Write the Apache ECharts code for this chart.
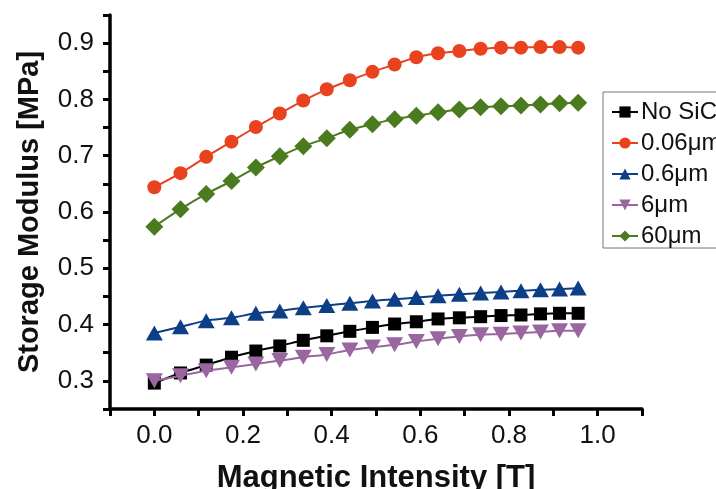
<!DOCTYPE html>
<html>
<head>
<meta charset="utf-8">
<script src="https://cdn.jsdelivr.net/npm/echarts@6/dist/echarts.min.js"></script>
<style>html,body{margin:0;padding:0;background:#fff;}#c{width:716px;height:489px;}</style>
</head>
<body>
<div id="c"></div>
<script>
const seriesNames = ['No SiC', '0.06\u03bcm', '0.6\u03bcm', '6\u03bcm', '60\u03bcm'];
const field = [0, 0.059, 0.117, 0.174, 0.229, 0.283, 0.336, 0.389, 0.441, 0.492, 0.542, 0.591, 0.640, 0.688, 0.736, 0.782, 0.827, 0.871, 0.914, 0.956];
const noSiC = [0.296, 0.314, 0.328, 0.342, 0.353, 0.362, 0.372, 0.380, 0.388, 0.395, 0.401, 0.405, 0.410, 0.412, 0.414, 0.416, 0.417, 0.419, 0.420, 0.420];
const sic006 = [0.644, 0.669, 0.698, 0.725, 0.751, 0.775, 0.798, 0.818, 0.834, 0.849, 0.862, 0.875, 0.882, 0.886, 0.890, 0.892, 0.892, 0.893, 0.893, 0.892];
const sic06 = [0.385, 0.396, 0.407, 0.412, 0.420, 0.424, 0.430, 0.434, 0.438, 0.442, 0.445, 0.448, 0.451, 0.454, 0.456, 0.458, 0.460, 0.462, 0.463, 0.465];
const sic6 = [0.300, 0.309, 0.318, 0.324, 0.330, 0.336, 0.342, 0.347, 0.355, 0.360, 0.364, 0.370, 0.375, 0.379, 0.382, 0.383, 0.385, 0.387, 0.389, 0.389];
const sic60 = [0.574, 0.605, 0.632, 0.655, 0.679, 0.699, 0.717, 0.731, 0.746, 0.756, 0.765, 0.771, 0.777, 0.782, 0.786, 0.788, 0.789, 0.791, 0.793, 0.794];

const values = [noSiC, sic006, sic06, sic6, sic60];
const colors = ['#000000', '#E8421E', '#0D3F87', '#9966A0', '#4B7B1F'];
const symbols = ['rect', 'circle', 'triangle', 'triangle', 'diamond'];
const symbolSizes = [13, 14, [17, 15], [17, 15], [18, 18]];
const rotates = [0, 0, 0, 180, 0];

const FONT = 'Arial, "Liberation Sans", sans-serif';
const chart = echarts.init(document.getElementById('c'), null, {renderer: 'canvas'});

const series = seriesNames.map((name, i) => ({
  name: name,
  type: 'line',
  data: field.map((x, j) => [x, values[i][j]]),
  smooth: 0.3,
  symbol: symbols[i],
  symbolSize: symbolSizes[i],
  symbolRotate: rotates[i],
  showAllSymbol: true,
  color: colors[i],
  lineStyle: {width: 2, color: colors[i]},
  itemStyle: {color: colors[i]},
  z: 2 + i
}));

chart.setOption({
  animation: false,
  backgroundColor: '#fff',
  grid: {left: 110, right: 74, top: 15, bottom: 80, containLabel: false, outerBoundsMode: 'none'},
  legend: {
    orient: 'vertical',
    left: 603,
    top: 92,
    padding: [8, 60, 0, 8],
    itemGap: 7,
    itemWidth: 26,
    itemHeight: 14,
    borderColor: '#777',
    borderWidth: 1,
    backgroundColor: '#fff',
    textStyle: {fontFamily: FONT, fontSize: 24, color: '#111', padding: [0, 0, 0, -2]},
    data: seriesNames
  },
  xAxis: {
    type: 'value',
    min: -0.1,
    max: 1.1,
    interval: 0.1,
    name: 'Magnetic Intensity [T]',
    nameLocation: 'middle',
    nameGap: 54,
    nameTextStyle: {fontFamily: FONT, fontSize: 31, fontWeight: 'bold', color: '#111'},
    axisLine: {show: true, onZero: false, lineStyle: {color: '#000', width: 3.5}},
    axisTick: {show: true, inside: false, length: 7, lineStyle: {color: '#000', width: 3}},
    axisLabel: {
      fontFamily: FONT, fontSize: 26, color: '#111', margin: 14,
      showMinLabel: true, showMaxLabel: true,
      formatter: function (v) {
        const k = Math.round(v * 10);
        return (k >= 0 && k <= 10 && k % 2 === 0) ? (k / 10).toFixed(1) : '';
      }
    },
    splitLine: {show: false}
  },
  yAxis: {
    type: 'value',
    min: 0.25,
    max: 0.95,
    interval: 0.05,
    name: 'Storage Modulus [MPa]',
    nameLocation: 'middle',
    nameGap: 66,
    nameTextStyle: {fontFamily: FONT, fontSize: 29, fontWeight: 'bold', color: '#111'},
    axisLine: {show: true, onZero: false, lineStyle: {color: '#000', width: 3.5}},
    axisTick: {show: true, inside: false, length: 7, lineStyle: {color: '#000', width: 3}},
    axisLabel: {
      fontFamily: FONT, fontSize: 26, color: '#111', margin: 16,
      formatter: function (v) {
        const k = Math.round(v * 100);
        return (k % 10 === 0) ? (k / 100).toFixed(1) : '';
      }
    },
    splitLine: {show: false}
  },
  series: series
});
</script>
</body>
</html>
